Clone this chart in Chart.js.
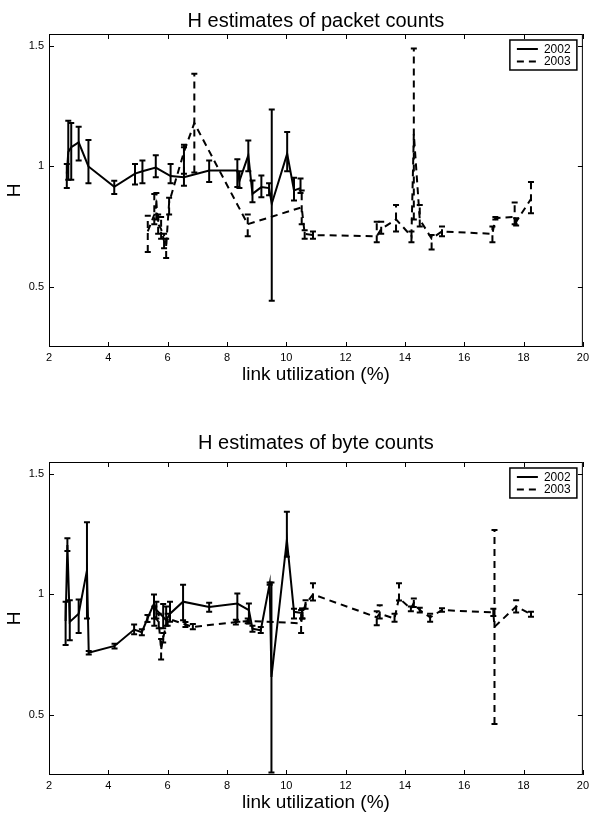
<!DOCTYPE html>
<html>
<head>
<meta charset="utf-8">
<script src="https://cdn.jsdelivr.net/npm/chart.js@4.4.0/dist/chart.umd.min.js"></script>
<style>
  html, body { margin: 0; padding: 0; background: #fff; }
  #wrap { position: relative; width: 593px; height: 815px; }
  canvas { position: absolute; left: 0; }
</style>
</head>
<body>
<div id="wrap">
  <canvas id="pktChart" width="593" height="400" style="top:0"></canvas>
  <canvas id="byteChart" width="593" height="405" style="top:410px"></canvas>
</div>
<script>
// ---- axis ticks ----
const xTicks = [2, 4, 6, 8, 10, 12, 14, 16, 18, 20];
const yTicks = [0.5, 1, 1.5];
const yTickLabels = ['0.5', '1', '1.5'];
const seriesLabels = ['2002', '2003'];

// ---- H estimates of packet counts, 2002 ----
const pktX02  = [2.60, 2.65, 2.75, 3.00, 3.33, 4.20, 4.90, 5.15, 5.60, 6.10, 6.55, 7.40, 8.35, 8.42, 8.72, 8.86, 9.16, 9.42, 9.51, 10.03, 10.26, 10.48];
const pktH02  = [0.97, 1.06, 1.08, 1.10, 1.00, 0.915, 0.97, 0.98, 0.995, 0.96, 0.955, 0.983, 0.983, 0.94, 1.046, 0.886, 0.914, 0.91, 0.845, 1.053, 0.90, 0.91];
const pktLo02 = [0.91, 0.945, 0.945, 1.025, 0.93, 0.885, 0.925, 0.93, 0.955, 0.93, 0.92, 0.935, 0.915, 0.91, 0.98, 0.851, 0.872, 0.88, 0.442, 0.98, 0.858, 0.89];
const pktHi02 = [1.01, 1.19, 1.18, 1.165, 1.11, 0.94, 1.01, 1.025, 1.046, 1.01, 1.08, 1.025, 1.03, 0.98, 1.108, 0.942, 0.962, 0.93, 1.236, 1.143, 0.953, 0.95];

// ---- H estimates of packet counts, 2003 ----
const pktX03  = [5.33, 5.55, 5.62, 5.68, 5.78, 5.88, 5.95, 6.05, 6.55, 6.90, 8.70, 10.52, 10.62, 10.90, 13.05, 13.20, 13.70, 14.22, 14.30, 14.50, 14.90, 15.25, 16.95, 17.05, 17.70, 17.75, 18.25];
const pktH03  = [0.73, 0.80, 0.84, 0.76, 0.74, 0.69, 0.67, 0.85, 1.06, 1.18, 0.76, 0.83, 0.72, 0.715, 0.71, 0.74, 0.78, 0.71, 1.135, 0.78, 0.70, 0.73, 0.72, 0.785, 0.79, 0.77, 0.865];
const pktLo03 = [0.645, 0.76, 0.78, 0.72, 0.70, 0.66, 0.62, 0.80, 0.97, 0.975, 0.71, 0.76, 0.70, 0.70, 0.685, 0.72, 0.73, 0.685, 0.78, 0.75, 0.655, 0.71, 0.685, 0.78, 0.76, 0.755, 0.805];
const pktHi03 = [0.795, 0.885, 0.89, 0.80, 0.79, 0.72, 0.70, 0.87, 1.09, 1.385, 0.80, 0.90, 0.735, 0.73, 0.77, 0.77, 0.84, 0.73, 1.49, 0.84, 0.715, 0.75, 0.75, 0.79, 0.85, 0.785, 0.935];

// ---- H estimates of byte counts, 2002 ----
const byteX02  = [2.56, 2.62, 2.70, 3.00, 3.28, 3.34, 4.21, 4.87, 5.13, 5.32, 5.54, 5.62, 5.85, 5.95, 6.08, 6.52, 7.40, 8.35, 8.74, 8.86, 9.14, 9.44, 9.50, 10.02, 10.26, 10.53];
const byteH02  = [0.89, 1.205, 0.886, 0.92, 1.10, 0.758, 0.786, 0.854, 0.843, 0.90, 0.962, 0.935, 0.907, 0.893, 0.92, 0.97, 0.948, 0.962, 0.935, 0.858, 0.851, 1.045, 0.657, 1.226, 0.928, 0.923];
const byteLo02 = [0.79, 1.18, 0.81, 0.84, 0.90, 0.75, 0.775, 0.835, 0.83, 0.885, 0.90, 0.90, 0.86, 0.87, 0.886, 0.893, 0.928, 0.886, 0.879, 0.845, 0.84, 1.04, 0.26, 1.156, 0.90, 0.90];
const byteHi02 = [0.97, 1.233, 0.976, 0.979, 1.30, 0.765, 0.795, 0.875, 0.855, 0.915, 1.0, 0.97, 0.96, 0.95, 0.97, 1.04, 0.965, 1.004, 0.962, 0.87, 0.865, 1.05, 1.05, 1.343, 0.94, 0.942];

// ---- H estimates of byte counts, 2003 ----
const byteX03  = [5.55, 5.70, 5.78, 5.85, 6.00, 6.60, 6.85, 8.30, 8.70, 10.50, 10.55, 10.65, 10.90, 13.05, 13.15, 13.65, 13.80, 14.20, 14.30, 14.50, 14.85, 15.25, 16.98, 17.02, 17.75, 18.25];
const byteH03  = [0.91, 0.885, 0.77, 0.82, 0.90, 0.875, 0.865, 0.885, 0.89, 0.88, 0.92, 0.96, 1.00, 0.905, 0.92, 0.90, 0.985, 0.94, 0.965, 0.935, 0.905, 0.935, 0.925, 0.865, 0.95, 0.918];
const byteLo03 = [0.87, 0.86, 0.73, 0.80, 0.87, 0.865, 0.855, 0.875, 0.88, 0.84, 0.90, 0.94, 0.975, 0.872, 0.90, 0.886, 0.975, 0.93, 0.948, 0.925, 0.886, 0.928, 0.91, 0.462, 0.925, 0.907];
const byteHi03 = [0.95, 0.92, 0.815, 0.84, 0.92, 0.885, 0.877, 0.895, 0.90, 0.935, 0.94, 0.976, 1.046, 0.93, 0.955, 0.92, 1.046, 0.95, 0.983, 0.945, 0.92, 0.943, 0.94, 1.268, 0.976, 0.928];

Chart.defaults.font.family = "'Liberation Sans', Arial, Helvetica, sans-serif";
Chart.defaults.color = '#000';

const DASH = [7, 5];

function points(xs, hs, los, his) {
    return xs.map((x, i) => ({ x: x, y: hs[i], lo: los[i], hi: his[i] }));
}

// vertical error bars with small caps
const errorBars = {
    id: 'errorBars',
    afterDatasetsDraw(chart) {
        const { ctx, chartArea: a, scales: { x, y } } = chart;
        ctx.save();
        ctx.beginPath();
        ctx.rect(a.left, a.top, a.right - a.left, a.bottom - a.top);
        ctx.clip();
        ctx.strokeStyle = '#000';
        ctx.lineWidth = 2;
        chart.data.datasets.forEach(ds => {
            ds.data.forEach(p => {
                const px = x.getPixelForValue(p.x);
                const lo = y.getPixelForValue(p.lo);
                const hi = y.getPixelForValue(p.hi);
                ctx.setLineDash(ds.borderDash || []);
                ctx.beginPath();
                ctx.moveTo(px, lo);
                ctx.lineTo(px, hi);
                ctx.stroke();
                ctx.setLineDash([]);
                ctx.beginPath();
                ctx.moveTo(px - 3, lo); ctx.lineTo(px + 3, lo);
                ctx.moveTo(px - 3, hi); ctx.lineTo(px + 3, hi);
                ctx.stroke();
            });
        });
        ctx.restore();
    }
};

// matlab style box with inward ticks on all sides
const boxFrame = {
    id: 'boxFrame',
    afterDraw(chart) {
        const { ctx, chartArea: a, scales: { x, y } } = chart;
        ctx.save();
        ctx.strokeStyle = '#000';
        ctx.lineWidth = 1;
        ctx.setLineDash([]);
        ctx.strokeRect(a.left + 0.5, a.top + 0.5, a.right - a.left - 1, a.bottom - a.top - 1);
        ctx.beginPath();
        x.ticks.forEach(t => {
            const px = Math.round(x.getPixelForValue(t.value)) + 0.5;
            ctx.moveTo(px, a.bottom); ctx.lineTo(px, a.bottom - 5);
            ctx.moveTo(px, a.top); ctx.lineTo(px, a.top + 5);
        });
        y.ticks.forEach(t => {
            const py = Math.round(y.getPixelForValue(t.value)) + 0.5;
            ctx.moveTo(a.left, py); ctx.lineTo(a.left + 5, py);
            ctx.moveTo(a.right, py); ctx.lineTo(a.right - 5, py);
        });
        ctx.stroke();
        ctx.restore();
    }
};

// boxed legend in the top right corner
const boxLegend = {
    id: 'boxLegend',
    afterDraw(chart) {
        const { ctx, chartArea: a } = chart;
        const w = 67, h = 30;
        const left = a.right - 6 - w, top = a.top + 6;
        ctx.save();
        ctx.fillStyle = '#fff';
        ctx.fillRect(left, top, w, h);
        ctx.strokeStyle = '#000';
        ctx.lineWidth = 1.5;
        ctx.setLineDash([]);
        ctx.strokeRect(left, top, w, h);
        ctx.font = "12px 'Liberation Sans', Arial, sans-serif";
        ctx.fillStyle = '#000';
        ctx.textBaseline = 'middle';
        chart.data.datasets.forEach((ds, i) => {
            const ry = top + 9 + i * 12.5;
            ctx.lineWidth = 2;
            ctx.setLineDash(ds.borderDash || []);
            ctx.beginPath();
            ctx.moveTo(left + 7, ry);
            ctx.lineTo(left + 28, ry);
            ctx.stroke();
            ctx.fillText(ds.label, left + 34, ry + 0.5);
        });
        ctx.restore();
    }
};

function makeChart(canvasId, titleText, d02, d03, layout) {
    return new Chart(document.getElementById(canvasId), {
        type: 'line',
        data: {
            datasets: [
                {
                    label: seriesLabels[0],
                    data: d02,
                    borderColor: '#000',
                    borderWidth: 2,
                    pointRadius: 0,
                    tension: 0,
                    fill: false
                },
                {
                    label: seriesLabels[1],
                    data: d03,
                    borderColor: '#000',
                    borderWidth: 2,
                    borderDash: DASH,
                    pointRadius: 0,
                    tension: 0,
                    fill: false
                }
            ]
        },
        options: {
            responsive: false,
            animation: false,
            events: [],
            layout: { padding: { left: 0, right: 8, top: 0, bottom: 0 } },
            plugins: {
                legend: { display: false },
                tooltip: { enabled: false },
                title: { display: false }
            },
            scales: {
                x: {
                    type: 'linear',
                    min: 2,
                    max: 20,
                    afterBuildTicks: s => { s.ticks = xTicks.map(v => ({ value: v })); },
                    afterFit: s => { s.height = layout.xHeight; },
                    grid: { display: false, drawTicks: false },
                    border: { display: false },
                    ticks: {
                        autoSkip: false,
                        maxRotation: 0,
                        padding: 4,
                        font: { size: 11 },
                        callback: v => String(v)
                    },
                    title: {
                        display: true,
                        text: 'link utilization (%)',
                        font: { size: 19 },
                        padding: { top: 0, bottom: layout.xTitleBottom }
                    }
                },
                // top axis only carries the chart title, centred over the plot
                xTop: {
                    type: 'linear',
                    position: 'top',
                    min: 2,
                    max: 20,
                    afterFit: s => { s.height = layout.topHeight; },
                    grid: { display: false, drawTicks: false },
                    border: { display: false },
                    ticks: { display: false },
                    title: {
                        display: true,
                        text: titleText,
                        font: { size: 20 },
                        padding: { top: layout.titleTop, bottom: 0 }
                    }
                },
                y: {
                    type: 'linear',
                    min: 0.25,
                    max: 1.55,
                    afterBuildTicks: s => { s.ticks = yTicks.map(v => ({ value: v })); },
                    afterFit: s => { s.width = 49; },
                    grid: { display: false, drawTicks: false },
                    border: { display: false },
                    ticks: {
                        padding: 5,
                        font: { size: 11 },
                        callback: v => yTickLabels[yTicks.indexOf(v)]
                    },
                    title: {
                        display: true,
                        text: 'H',
                        font: { size: 19 },
                        padding: { top: 3.6, bottom: 0 }
                    }
                }
            }
        },
        plugins: [errorBars, boxFrame, boxLegend]
    });
}

makeChart('pktChart', 'H estimates of packet counts',
    points(pktX02, pktH02, pktLo02, pktHi02),
    points(pktX03, pktH03, pktLo03, pktHi03),
    { topHeight: 34, titleTop: 9, xHeight: 53, xTitleBottom: 13.6 });

makeChart('byteChart', 'H estimates of byte counts',
    points(byteX02, byteH02, byteLo02, byteHi02),
    points(byteX03, byteH03, byteLo03, byteHi03),
    { topHeight: 52, titleTop: 21.5, xHeight: 40, xTitleBottom: 0.6 });
</script>
</body>
</html>
